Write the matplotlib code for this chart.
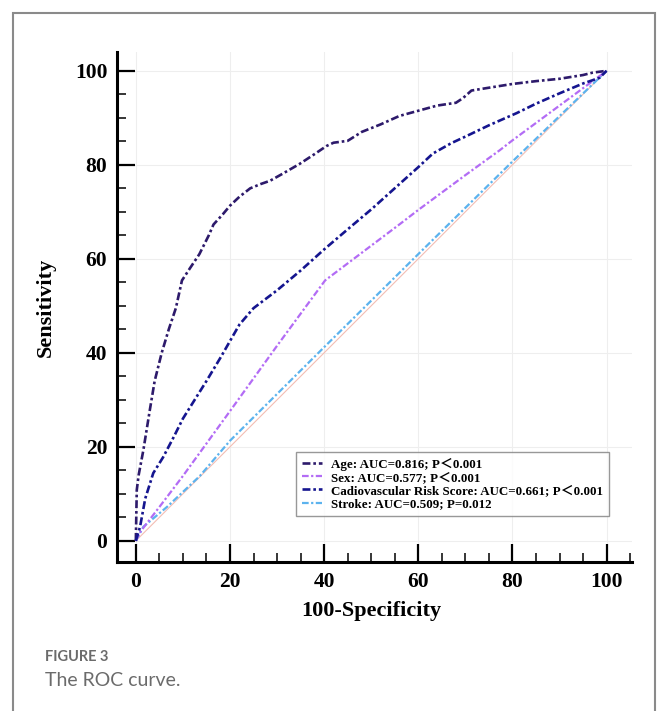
import matplotlib
matplotlib.use('Agg')
import matplotlib.pyplot as plt
from matplotlib.font_manager import FontProperties
from matplotlib.patches import Rectangle
from matplotlib.ticker import MultipleLocator

# ROC 数据（100-Specificity, Sensitivity）
age_x = [0, 0.2, 0.6, 1.6, 3, 4, 5.5, 7, 8.5, 9.8, 11.5, 13.5, 15.5, 16.5, 18.5,
         20, 22, 24.3, 26.5, 28.5, 31, 34.8, 38, 40.5, 42, 45, 48, 52, 56,
         60, 64, 68, 69.5, 71.3, 75, 80, 85, 90, 95, 97, 100]
age_y = [0, 10.8, 14, 19.3, 28, 34, 40, 45, 49.5, 55.4, 58, 61, 65, 67.3, 69.5,
         71.3, 73.2, 75, 75.9, 76.6, 78, 80.2, 82.3, 84, 84.7, 85.1, 87, 88.6, 90.4,
         91.5, 92.6, 93.2, 94.2, 95.8, 96.4, 97.2, 97.8, 98.3, 99.1, 99.6, 100]

sex_x = [0, 1, 5, 10, 20, 30, 40.2, 50, 56.1, 60, 70, 77.3, 80, 90, 100]
sex_y = [0, 2, 7.2, 13.8, 27.6, 41.5, 55.4, 62.8, 67.4, 70.4, 77.8, 83.1, 85.2, 92.6, 100]

cardio_x = [0, 0.9, 2, 3.7, 5.8, 8, 10, 12.5, 15, 18, 20, 22, 25, 30, 35, 40,
            45.5, 50, 56.1, 60, 63.1, 67, 70, 75, 80.9, 85, 90, 95, 98.5, 100]
cardio_y = [0, 3, 9, 14.4, 17.8, 22, 26, 30, 34, 39, 42.5, 46, 49.5, 53.3, 57.5, 62,
            66.7, 70.5, 76, 79.5, 82.4, 84.6, 86, 88.4, 91, 93, 95.2, 97.3, 98.5, 100]

stroke_x = [0, 1.6, 6.6, 13.6, 20, 40, 60, 80, 100]
stroke_y = [0, 3, 7.2, 13.8, 21.3, 41.2, 61, 80.7, 100]

ref_x = [0, 100]
ref_y = [0, 100]

labels = ['Age: AUC=0.816; P\uff1c0.001',
          'Sex: AUC=0.577; P\uff1c0.001',
          'Cadiovascular Risk Score: AUC=0.661; P\uff1c0.001',
          'Stroke: AUC=0.509; P=0.012']

serif = ['Liberation Serif', 'Noto Sans CJK SC', 'DejaVu Serif']

fig = plt.figure(figsize=(6.58, 7.11), dpi=100)
ax = fig.add_axes([117 / 658, 1 - 562 / 711, 515 / 658, 510 / 711])

dashes = (3, 1.1, 1, 1.1)
ax.plot(ref_x, ref_y, color='#f3bdb4', linewidth=0.8, zorder=1)
ax.plot(age_x, age_y, color='#2d1a6b', linewidth=1.9, dashes=dashes, label=labels[0], zorder=3)
ax.plot(sex_x, sex_y, color='#b36cf5', linewidth=1.6, dashes=dashes, label=labels[1], zorder=3)
ax.plot(cardio_x, cardio_y, color='#15158f', linewidth=1.9, dashes=dashes, label=labels[2], zorder=3)
ax.plot(stroke_x, stroke_y, color='#5cb3ee', linewidth=1.6, dashes=dashes, label=labels[3], zorder=2)

ax.set_xlim(-4, 105.4)
ax.set_ylim(-4.5, 104)
ax.xaxis.set_major_locator(MultipleLocator(20))
ax.xaxis.set_minor_locator(MultipleLocator(5))
ax.yaxis.set_major_locator(MultipleLocator(20))
ax.yaxis.set_minor_locator(MultipleLocator(5))

ax.grid(True, which='major', color='#eeeeee', linewidth=0.8, zorder=0)
ax.set_axisbelow(True)

for s in ['top', 'right']:
    ax.spines[s].set_visible(False)
for s in ['left', 'bottom']:
    ax.spines[s].set_linewidth(2.2)

ax.tick_params(which='major', direction='in', length=13, width=1.6, pad=7)
ax.tick_params(which='minor', direction='in', length=6.5, width=1.1)

tick_font = FontProperties(family=serif, weight='bold', size=15.5)
for lab in ax.get_xticklabels() + ax.get_yticklabels():
    lab.set_fontproperties(tick_font)

label_font = FontProperties(family=serif, weight='bold', size=16)
ax.set_xlabel('100-Specificity', fontproperties=label_font, va='center')
ax.xaxis.set_label_coords(0.494, -0.096)
ax.set_ylabel('Sensitivity', fontproperties=label_font, va='center')
ax.yaxis.set_label_coords(-0.138, 0.5)

leg_font = FontProperties(family=serif, weight='bold', size=9.4)
leg = ax.legend(loc='lower right', bbox_to_anchor=(0.955, 0.09), borderaxespad=0,
                prop=leg_font, frameon=True, fancybox=False, handlelength=1.5,
                handletextpad=0.7, labelspacing=0.08, borderpad=0.45)
leg.get_frame().set_edgecolor('#7f7f7f')
leg.get_frame().set_linewidth(1.0)

# 外框与图注
fig.add_artist(Rectangle((13 / 658, -0.1), 642 / 658, 1.1 - 13 / 711,
                         transform=fig.transFigure, fill=False,
                         edgecolor='#8a8a8a', linewidth=1.5))
fig.text(45 / 658, 1 - 657 / 711, 'FIGURE 3', family=['Lato', 'DejaVu Sans'],
         weight='bold', size=10.5, color='#6b6b6b', va='center')
fig.text(45 / 658, 1 - 681 / 711, 'The ROC curve.', family=['Lato', 'DejaVu Sans'],
         size=14, color='#6b6b6b', va='center')

plt.savefig('out.png', dpi=100)
plt.close()
